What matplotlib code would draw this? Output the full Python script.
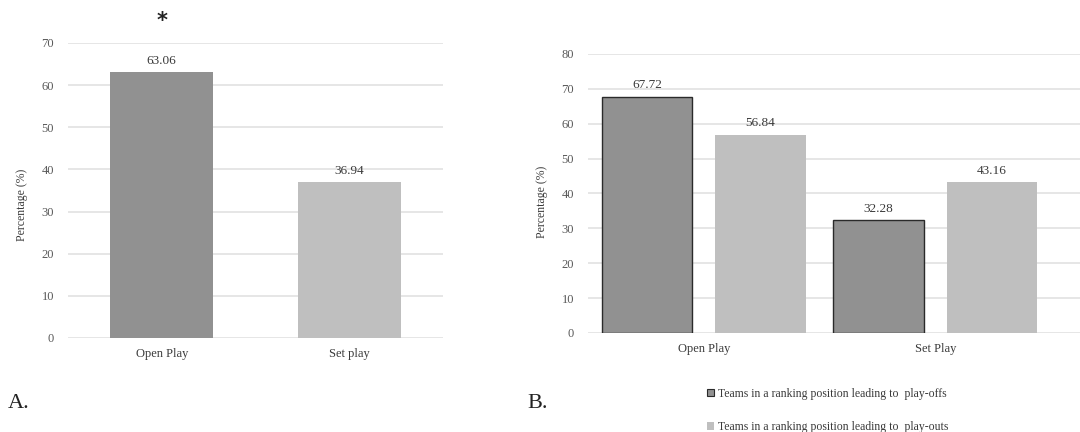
import matplotlib
matplotlib.use('Agg')
import matplotlib.pyplot as plt
import numpy as np
from matplotlib.patches import Patch

plt.rcParams['font.family'] = ['Liberation Serif', 'DejaVu Serif']

# panel A
catA = ['Open Play', 'Set play']
valA = [63.06, 36.94]
# panel B
catB = ['Open Play', 'Set Play']
playoffs = [67.72, 32.28]
playouts = [56.84, 43.16]
legB = ['Teams in a ranking position leading to  play-offs',
        'Teams in a ranking position leading to  play-outs']

dark = '#919191'
light = '#bfbfbf'
grid = '#e2e2e2'
tickc = '#595959'
textc = '#3a3a3a'

fig = plt.figure(figsize=(10.8, 4.32), dpi=100)

ax1 = fig.add_axes([0.063, 0.2176, 0.347, 0.683])
ax2 = fig.add_axes([0.5444, 0.2292, 0.4556, 0.646])

def style(ax, ymax, step):
    for s in ax.spines.values():
        s.set_visible(False)
    ax.set_ylim(0, ymax)
    ax.set_yticks(np.arange(0, ymax + 1, step))
    ax.yaxis.grid(True, color=grid, linewidth=1.2)
    ax.set_axisbelow(True)
    ax.tick_params(axis='y', length=0, labelsize=9, colors=tickc, pad=10)
    ax.tick_params(axis='x', length=0, labelsize=9, colors=textc, pad=7)

# A
x = np.arange(len(catA))
ax1.bar(x, valA, width=0.55, color=[dark, light])
style(ax1, 70, 10)
ax1.set_xlim(-0.5, 1.5)
ax1.set_xticks(x)
ax1.set_xticklabels(catA)
for xi, v in zip(x, valA):
    ax1.annotate(f'{v:.2f}', (xi, v), xytext=(0, 4), textcoords='offset points',
                 ha='center', va='bottom', fontsize=9.5, color=textc)
ax1.text(x[0], 75.3, '*', ha='center', va='center', fontsize=15,
         fontweight='bold', family='DejaVu Sans', color='#222222', clip_on=False)
ax1.set_ylabel('Percentage (%)', fontsize=8.5, color=textc)
ax1.yaxis.set_label_coords(-0.107, 0.45)

# B
xb = np.arange(len(catB))
w = 0.39
off = 0.245
ax2.bar(xb - off, playoffs, width=w, color=dark, edgecolor='#2a2a2a', linewidth=1)
ax2.bar(xb + off, playouts, width=w, color=light)
style(ax2, 80, 10)
ax2.set_xlim(-0.5, 1.625)
ax2.set_xticks(xb)
ax2.set_xticklabels(catB)
for xi, v in zip(xb - off, playoffs):
    ax2.annotate(f'{v:.2f}', (xi, v), xytext=(0, 4), textcoords='offset points',
                 ha='center', va='bottom', fontsize=9.5, color=textc)
for xi, v in zip(xb + off, playouts):
    ax2.annotate(f'{v:.2f}', (xi, v), xytext=(0, 4), textcoords='offset points',
                 ha='center', va='bottom', fontsize=9.5, color=textc)
ax2.set_ylabel('Percentage (%)', fontsize=8.5, color=textc)
ax2.yaxis.set_label_coords(-0.082, 0.47)

handles = [Patch(facecolor=dark, edgecolor='#2a2a2a', linewidth=0.8),
           Patch(facecolor=light, edgecolor='none')]
fig.legend(handles, legB, loc='upper left', bbox_to_anchor=(701 / 1080, 1 - 382 / 432),
           frameon=False, fontsize=8.5, handlelength=0.6, handleheight=0.6,
           handletextpad=0.35, labelspacing=1.8, borderpad=0, labelcolor=textc)

fig.text(8 / 1080, 1 - 403 / 432, 'A.', fontsize=16, va='center', ha='left', color='#222222')
fig.text(527 / 1080, 1 - 403 / 432, 'B.', fontsize=16, va='center', ha='left', color='#222222')

fig.savefig('out.png', dpi=100)
